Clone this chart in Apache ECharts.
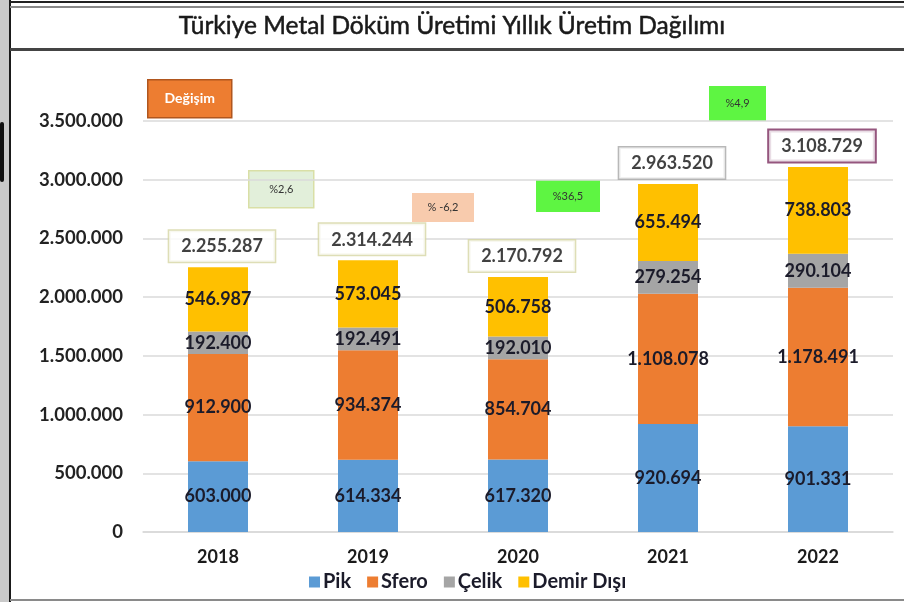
<!DOCTYPE html>
<html>
<head>
<meta charset="utf-8">
<script src="https://cdn.jsdelivr.net/npm/echarts@6/dist/echarts.min.js"></script>
<style>
html,body{margin:0;padding:0;background:#fff;}
#c{width:904px;height:602px;}
</style>
</head>
<body>
<div id="c"></div>
<script>
var titleText = 'Türkiye Metal Döküm Üretimi Yıllık Üretim Dağılımı';
var categories = ['2018', '2019', '2020', '2021', '2022'];
var seriesNames = ['Pik', 'Sfero', 'Çelik', 'Demir Dışı'];
var pik = [603000, 614334, 617320, 920694, 901331];
var sfero = [912900, 934374, 854704, 1108078, 1178491];
var celik = [192400, 192491, 192010, 279254, 290104];
var demirDisi = [546987, 573045, 506758, 655494, 738803];
var totals = [2255287, 2314244, 2170792, 2963520, 3108729];
var changeLabels = ['%2,6', '% -6,2', '%36,5', '%4,9'];
var yTicks = [0, 500000, 1000000, 1500000, 2000000, 2500000, 3000000, 3500000];

var colors = ['#5B9BD5', '#ED7D31', '#A5A5A5', '#FFC000'];
var totalBorderColors = ['#D6D6A4', '#D6D6A4', '#D6D6A4', '#A6A6A6', '#7B2C5E'];
var FONT = 'Lato, "Liberation Sans", sans-serif';

function fmt(v) {
  return String(v).replace(/\B(?=(\d{3})+(?!\d))/g, '.');
}

var chart = echarts.init(document.getElementById('c'));

function stackSeries(name, data, color) {
  return {
    name: name,
    type: 'bar',
    stack: 'total',
    barWidth: 60,
    itemStyle: { color: color },
    label: {
      show: true,
      position: 'inside',
      formatter: function (p) { return fmt(p.value); },
      fontFamily: FONT,
      fontWeight: 'bold',
      fontSize: 18,
      color: '#1b1b2a'
    },
    emphasis: { disabled: true },
    data: data
  };
}

function annot(x, y, w, h, fill, stroke, text, textColor, fontSize, bold) {
  return {
    type: 'group',
    left: x, top: y,
    children: [
      { type: 'rect', shape: { x: 0, y: 0, width: w, height: h },
        style: { fill: fill, stroke: stroke || null, lineWidth: stroke ? 1.5 : 0 } },
      { type: 'text', x: w / 2, y: h / 2,
        style: { text: text, fill: textColor, font: (bold ? 'bold ' : '') + fontSize + 'px ' + FONT,
                 textAlign: 'center', textVerticalAlign: 'middle' } }
    ]
  };
}

var option = {
  animation: false,
  grid: { left: 143, right: 11, top: 121, bottom: 70 },
  legend: {
    data: seriesNames,
    bottom: 5,
    left: 304,
    itemWidth: 11,
    itemHeight: 11,
    itemGap: 16,
    icon: 'rect',
    textStyle: { fontFamily: FONT, fontWeight: 'bold', fontSize: 20, color: '#1b1b2a', padding: [0, 0, 0, -2] }
  },
  xAxis: {
    type: 'category',
    data: categories,
    axisLine: { lineStyle: { color: '#d9d9d9', width: 1.5 } },
    axisTick: { show: false },
    axisLabel: { fontFamily: FONT, fontWeight: 'bold', fontSize: 18, color: '#1b1b1b', margin: 16 }
  },
  yAxis: {
    type: 'value',
    min: yTicks[0],
    max: yTicks[yTicks.length - 1],
    interval: yTicks[1] - yTicks[0],
    axisLine: { show: false },
    axisTick: { show: false },
    splitLine: { lineStyle: { color: '#dadada', width: 1.5 } },
    axisLabel: {
      formatter: function (v) { return fmt(v); },
      fontFamily: FONT, fontWeight: 'bold', fontSize: 18.5, color: '#222', margin: 20
    }
  },
  series: [
    stackSeries(seriesNames[0], pik, colors[0]),
    stackSeries(seriesNames[1], sfero, colors[1]),
    stackSeries(seriesNames[2], celik, colors[2]),
    stackSeries(seriesNames[3], demirDisi, colors[3]),
    {
      name: 'Toplam',
      type: 'scatter',
      symbolSize: 1,
      itemStyle: { color: 'rgba(0,0,0,0)' },
      emphasis: { disabled: true },
      z: 10,
      label: {
        show: true,
        position: 'top',
        distance: 5,
        offset: [4, 0],
        formatter: function (p) { return fmt(p.value); },
        fontFamily: FONT, fontWeight: 'bold', fontSize: 18, color: '#111',
        backgroundColor: '#fff',
        borderWidth: 1.5,
        padding: [7, 12, 6, 12]
      },
      data: totals.map(function (v, i) {
        return { value: v, label: { borderColor: totalBorderColors[i], borderWidth: i === 4 ? 2 : 1.5 } };
      })
    }
  ],
  graphic: [
    { type: 'rect', left: 0, top: 0, shape: { width: 9, height: 602 }, style: { fill: '#c9c9c9' }, z: 100 },
    { type: 'rect', left: 0, top: 122, shape: { width: 4, height: 60, r: 2 }, style: { fill: '#111' }, z: 101 },
    { type: 'rect', left: 9, top: 0, shape: { width: 2, height: 602 }, style: { fill: '#1a1a1a' }, z: 101 },
    { type: 'rect', left: 10, top: 1, shape: { width: 894, height: 2 }, style: { fill: '#222' }, z: 101 },
    { type: 'rect', left: 10, top: 6, shape: { width: 894, height: 2 }, style: { fill: '#888' }, z: 101 },
    { type: 'rect', left: 10, top: 48, shape: { width: 894, height: 3 }, style: { fill: '#444' }, z: 101 },
    { type: 'rect', left: 10, top: 599, shape: { width: 894, height: 2 }, style: { fill: '#8a8a8a' }, z: 101 },
    { type: 'text', left: 'center', top: 13, z: 102,
      style: { text: titleText, fill: '#1a1a1a', font: '24.5px ' + FONT, stroke: '#1a1a1a', lineWidth: 0.5 } },
    annot(147, 79, 84, 38, '#ED7D31', '#B0561E', 'Değişim', '#fff', 14, true),
    annot(248, 170, 65, 37, '#E2EFDA', '#D9DFA6', changeLabels[0], '#333', 11, false),
    annot(412, 193, 62, 29, '#F8CBAD', null, changeLabels[1], '#333', 11, false),
    annot(536, 180, 64, 32, '#5EF542', null, changeLabels[2], '#333', 11, false),
    annot(709, 86, 57, 35, '#5EF542', null, changeLabels[3], '#333', 11, false)
  ]
};
chart.setOption(option);
</script>
</body>
</html>
